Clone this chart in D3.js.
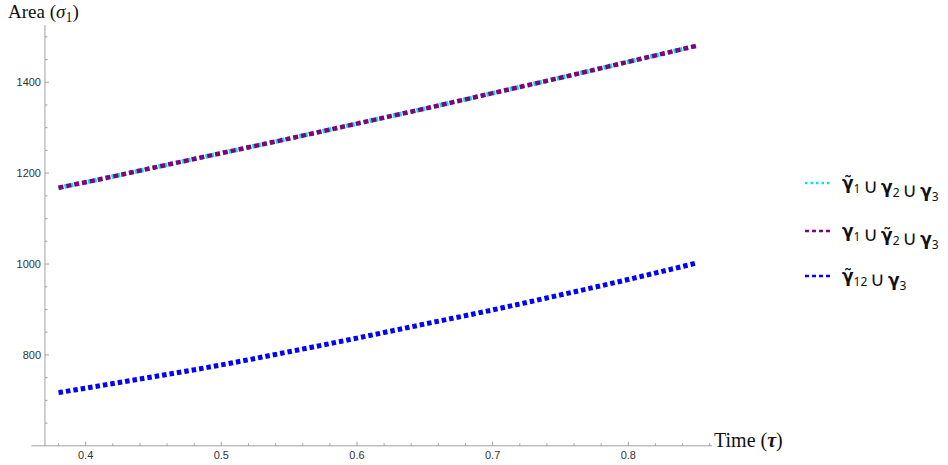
<!DOCTYPE html>
<html><head><meta charset="utf-8">
<script src="https://cdn.jsdelivr.net/npm/d3@7/dist/d3.min.js"></script>
<style>body{margin:0;background:#fff}svg{display:block}</style>
</head><body>
<svg id="chart" width="948" height="465"></svg>
<script>
// ---- data ----
const times = [0.38, 0.40, 0.45, 0.50, 0.55, 0.60, 0.65, 0.70, 0.75, 0.80, 0.85];
const areaG1tilde = [1168, 1180, 1212, 1244, 1276, 1309, 1342, 1376, 1410, 1445, 1480];
const areaG2tilde = [1168, 1180, 1212, 1244, 1276, 1309, 1342, 1376, 1410, 1445, 1480];
const areaG12tilde = [717, 727, 752, 778, 807, 837, 868, 899, 932, 966, 1002];
const xTicks = [0.4, 0.5, 0.6, 0.7, 0.8];
const yTicks = [800, 1000, 1200, 1400];

const svg = d3.select("#chart");
const x = d3.scaleLinear().domain([0.36, 0.8617]).range([31.4, 712]);
const y = d3.scaleLinear().domain([600, 1526]).range([445.8, 25]);
const axisColor = "#a0a0a0";
const x0 = x(0.37), y0 = y(600);

const xMinor = d3.range(0.38, 0.861, 0.02).filter(v => !xTicks.some(t => Math.abs(t - v) < 1e-6));
const yMinor = d3.range(650, 1526, 50).filter(v => !yTicks.includes(v));

// x axis
const gx = svg.append("g");
gx.append("line").attr("x1", x(0.36)).attr("x2", x(0.8617)).attr("y1", y0).attr("y2", y0)
  .attr("stroke", axisColor).attr("stroke-width", 1);
gx.selectAll(".xmaj").data(xTicks).join("line")
  .attr("x1", d => x(d)).attr("x2", d => x(d)).attr("y1", y0).attr("y2", y0 - 4)
  .attr("stroke", axisColor);
gx.selectAll(".xmin").data(xMinor).join("line")
  .attr("x1", d => x(d)).attr("x2", d => x(d)).attr("y1", y0).attr("y2", y0 - 2.5)
  .attr("stroke", axisColor);
gx.selectAll("text").data(xTicks).join("text")
  .attr("x", d => x(d)).attr("y", 459).attr("text-anchor", "middle")
  .attr("font-family", "Liberation Sans, Arial, sans-serif").attr("font-size", 11).attr("fill", "#333")
  .text(d => d3.format(".1f")(d));

// y axis
const gy = svg.append("g");
gy.append("line").attr("x1", x0).attr("x2", x0).attr("y1", y(1526)).attr("y2", y0)
  .attr("stroke", axisColor);
gy.selectAll(".ymaj").data(yTicks).join("line")
  .attr("x1", x0).attr("x2", x0 + 4).attr("y1", d => y(d)).attr("y2", d => y(d))
  .attr("stroke", axisColor);
gy.selectAll(".ymin").data(yMinor).join("line")
  .attr("x1", x0).attr("x2", x0 + 2.5).attr("y1", d => y(d)).attr("y2", d => y(d))
  .attr("stroke", axisColor);
gy.selectAll("text").data(yTicks).join("text")
  .attr("x", 41).attr("y", d => y(d) + 4).attr("text-anchor", "end")
  .attr("font-family", "Liberation Sans, Arial, sans-serif").attr("font-size", 11).attr("fill", "#333")
  .text(d => d);

// axis titles
const yt = svg.append("text").attr("x", 8).attr("y", 18)
  .attr("font-family", "Liberation Serif, Times New Roman, serif").attr("font-size", 19).attr("fill", "#111");
yt.append("tspan").text("Area (");
yt.append("tspan").attr("font-style", "italic").text("σ");
yt.append("tspan").attr("font-size", 14).attr("dy", 4).text("1");
yt.append("tspan").attr("dy", -4).text(")");

const xt = svg.append("text").attr("x", 714).attr("y", 447)
  .attr("font-family", "Liberation Serif, Times New Roman, serif").attr("font-size", 20).attr("fill", "#111");
xt.append("tspan").text("Time (");
xt.append("tspan").attr("font-style", "italic").attr("font-weight", "bold").text("τ");
xt.append("tspan").text(")");

// lines
const line = vals => d3.line().x((d, i) => x(times[i])).y(d => y(d)).curve(d3.curveMonotoneX)(vals);
const styles = [
  {data: areaG1tilde, color: "#00e5e5", dash: "3,3", w: 4.5},
  {data: areaG2tilde, color: "#800080", dash: "5,3", w: 4.5},
  {data: areaG12tilde, color: "#0000ff", dash: "4.5,3", w: 5}
];
styles.forEach(s => {
  svg.append("path").attr("d", line(s.data)).attr("fill", "none")
    .attr("stroke", s.color).attr("stroke-width", s.w).attr("stroke-dasharray", s.dash);
});

// legend
const legendY = [183, 231, 276];
const legendDash = ["2.5,3", "4,3", "4,3"];
const lg = svg.append("g");
styles.forEach((s, i) => {
  lg.append("line").attr("x1", 805).attr("x2", 832).attr("y1", legendY[i]).attr("y2", legendY[i])
    .attr("stroke", s.color).attr("stroke-width", 2.5).attr("stroke-dasharray", legendDash[i]);
});
const legendParts = [
  [["γ̃", "1"], "∪", ["γ", "2"], "∪", ["γ", "3"]],
  [["γ", "1"], "∪", ["γ̃", "2"], "∪", ["γ", "3"]],
  [["γ̃", "12"], "∪", ["γ", "3"]]
];
legendParts.forEach((parts, i) => {
  const t = lg.append("text").attr("x", 842).attr("y", legendY[i] + 6)
    .attr("font-family", "Noto Sans, sans-serif").attr("font-size", 17).attr("fill", "#111");
  let afterCup = false;
  parts.forEach((p, j) => {
    if (typeof p === "string") {
      t.append("tspan").attr("dx", 3).attr("font-family", "DejaVu Sans").attr("font-size", 20).text(p);
      afterCup = true;
      return;
    }
    t.append("tspan").attr("dx", afterCup ? 3 : 0).attr("font-weight", "bold").attr("font-family", "DejaVu Sans").text(p[0]);
    t.append("tspan").attr("font-size", 12).attr("dy", 4).text(p[1]);
    t.append("tspan").attr("dy", -4).text("");
    afterCup = false;
  });
});
</script>
</body></html>
